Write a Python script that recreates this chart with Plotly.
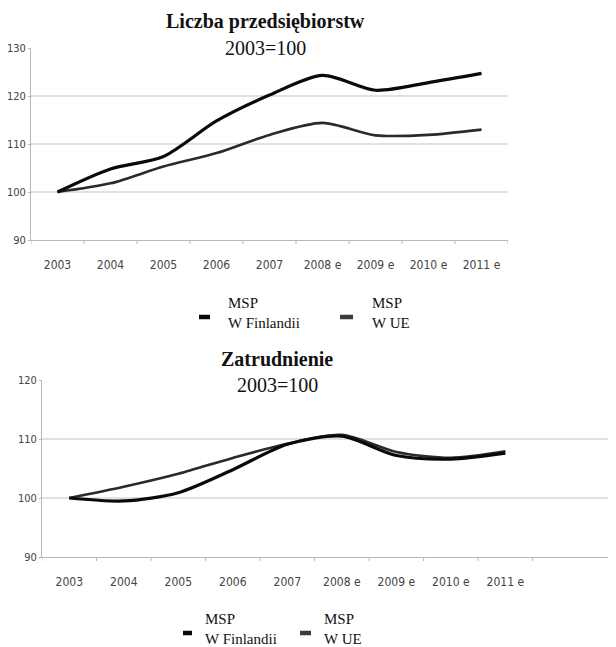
import plotly.graph_objects as go

categories = ["2003", "2004", "2005", "2006", "2007", "2008 e", "2009 e", "2010 e", "2011 e"]

firms_finland = [100, 104.8, 107.4, 114.8, 120.2, 124.3, 121.2, 122.8, 124.7]
firms_eu = [100, 101.8, 105.3, 108.1, 111.9, 114.4, 111.8, 111.9, 113.0]

employment_finland = [100, 99.5, 100.9, 104.8, 109.1, 110.5, 107.2, 106.6, 107.6]
employment_eu = [100, 101.9, 104.1, 106.8, 109.2, 110.7, 107.8, 106.8, 107.9]

series_names = ["MSP<br>W Finlandii", "MSP<br>W UE"]
titles = ["<b>Liczba przedsiębiorstw</b>", "<b>Zatrudnienie</b>"]
subtitle = "2003=100"
top_ticks = [90, 100, 110, 120, 130]
bottom_ticks = [90, 100, 110, 120]

# page body adds an 8px margin; size the figure to fit the window
OFF = 8
W, H = 616 - OFF, 647 - OFF
def px(x):
    return (x - OFF) / W
def py(y):
    return 1 - (y - OFF) / H

fig = go.Figure()
idx = list(range(len(categories)))

line_fin = dict(color="#0a0a0a", width=3.2, shape="spline", smoothing=0.8)
line_eu = dict(color="#2a2a2a", width=2.6, shape="spline", smoothing=0.8)

fig.add_trace(go.Scatter(x=idx, y=firms_eu, mode="lines", line=line_eu, xaxis="x", yaxis="y", showlegend=False))
fig.add_trace(go.Scatter(x=idx, y=firms_finland, mode="lines", line=line_fin, xaxis="x", yaxis="y", showlegend=False))
fig.add_trace(go.Scatter(x=idx, y=employment_eu, mode="lines", line=line_eu, xaxis="x2", yaxis="y2", showlegend=False))
fig.add_trace(go.Scatter(x=idx, y=employment_finland, mode="lines", line=line_fin, xaxis="x2", yaxis="y2", showlegend=False))

fam = "Liberation Sans Narrow, DejaVu Sans Condensed, Roboto Condensed, Arial Narrow, Liberation Sans, sans-serif"
xtickfont = dict(family=fam, size=12, color="#444")
ytickfont = dict(family=fam, size=11, color="#444")
axcol = "#b8b8b8"

def xaxis_cfg(domain, anchor, rng):
    return dict(domain=domain, anchor=anchor, range=rng, tickmode="array", tickvals=idx, ticktext=categories,
                showgrid=False, zeroline=False, showline=True, linecolor=axcol, linewidth=1,
                ticks="", tickfont=xtickfont, ticklabelstandoff=14, fixedrange=True)

def yaxis_cfg(domain, anchor, rng, tv):
    return dict(domain=domain, anchor=anchor, range=rng, tickvals=tv, showgrid=False, zeroline=False,
                showline=True, linecolor=axcol, linewidth=1, ticks="outside", ticklen=2, tickcolor=axcol,
                tickfont=ytickfont, ticklabelstandoff=0, fixedrange=True)

fig.update_layout(
    width=W, height=H, margin=dict(l=0, r=0, t=0, b=0, autoexpand=False),
    paper_bgcolor="white", plot_bgcolor="white",
    xaxis=xaxis_cfg([px(31), px(508)], "y", [-0.5, 8.5]),
    yaxis=yaxis_cfg([py(240), py(48)], "x", [90, 130], top_ticks),
    xaxis2=xaxis_cfg([px(42), 1.0], "y2", [-0.5, 10.03]),
    yaxis2=yaxis_cfg([py(557), py(380)], "x2", [90, 120], bottom_ticks),
)

shapes = []
# gridlines
for v in [100, 110, 120]:
    shapes.append(dict(type="line", xref="x domain", yref="y", x0=0, x1=1, y0=v, y1=v,
                       line=dict(color="#c4c4c4", width=1.2), layer="below"))
for v in [100, 110]:
    shapes.append(dict(type="line", xref="x2 domain", yref="y2", x0=0, x1=1, y0=v, y1=v,
                       line=dict(color="#c4c4c4", width=1.2), layer="below"))
# boundary tick marks on x axes
for k in range(len(categories) + 1):
    b = k - 0.5
    shapes.append(dict(type="line", xref="x", yref="paper", x0=b, x1=b, y0=py(240), y1=py(244),
                       line=dict(color=axcol, width=1)))
    shapes.append(dict(type="line", xref="x2", yref="paper", x0=b, x1=b, y0=py(557), y1=py(561),
                       line=dict(color=axcol, width=1)))

annotations = []
serif = "Liberation Serif, Times New Roman, serif"
for title, cx, ty, sy in [(titles[0], 265, 22, 48), (titles[1], 277, 359, 385)]:
    annotations.append(dict(text=title, xref="paper", yref="paper", x=px(cx), y=py(ty), showarrow=False,
                            xanchor="center", yanchor="middle", font=dict(family=serif, size=20, color="#111")))
    annotations.append(dict(text=subtitle, xref="paper", yref="paper", x=px(cx), y=py(sy), showarrow=False,
                            xanchor="center", yanchor="middle", font=dict(family=serif, size=20, color="#111")))

# legends (manual): dash + two-line label
legend_specs = [
    [(199, 210, 317, 226, 313, "#0a0a0a", series_names[0]), (340, 353, 317, 370, 313, "#3a3a3a", series_names[1])],
    [(183, 192, 633, 203, 629, "#0a0a0a", series_names[0]), (300, 311, 633, 322, 629, "#3a3a3a", series_names[1])],
]
for group in legend_specs:
    for x0, x1, dy, tx, ty, col, name in group:
        shapes.append(dict(type="line", xref="paper", yref="paper", x0=px(x0), x1=px(x1), y0=py(dy), y1=py(dy),
                           line=dict(color=col, width=4.5)))
        annotations.append(dict(text=name, xref="paper", yref="paper", x=px(tx), y=py(ty), showarrow=False,
                                xanchor="left", yanchor="middle", align="left",
                                font=dict(family=serif, size=15, color="#111")))

fig.update_layout(shapes=shapes, annotations=annotations)

fig.write_html("out.html")
